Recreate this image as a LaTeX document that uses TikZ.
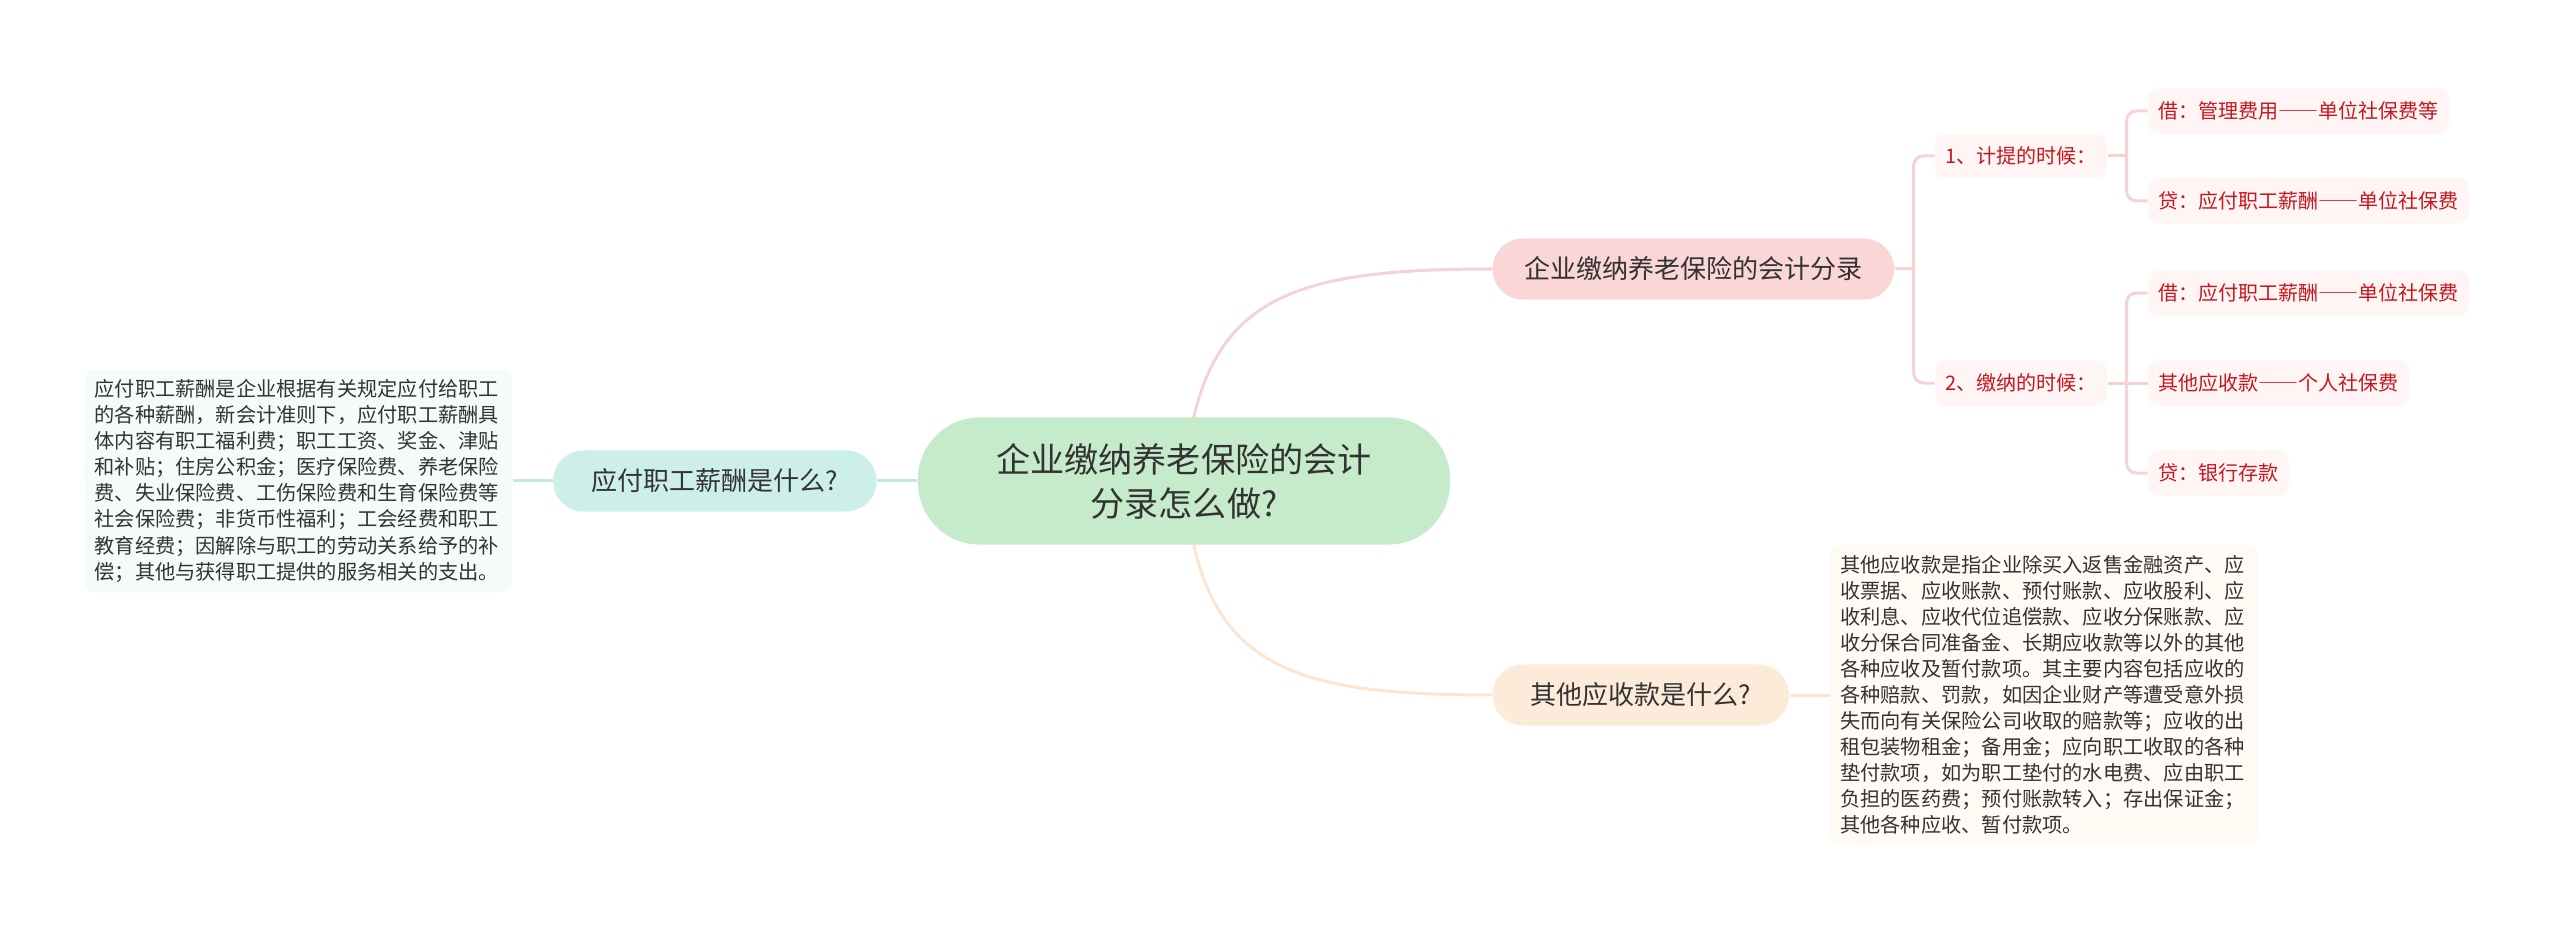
\documentclass[tikz,border=0pt]{standalone}
\usepackage{fontspec}
\setmainfont{Noto Sans CJK SC}
\usetikzlibrary{positioning,backgrounds}
\definecolor{MapInk}{HTML}{333333}
\definecolor{MapRed}{HTML}{C8161D}
\definecolor{MapGreen}{HTML}{C5EBCB}
\definecolor{MapTeal}{HTML}{CDEFEA}
\definecolor{MapTealLine}{HTML}{C3E8E2}
\definecolor{MapTealNote}{HTML}{F4FBFA}
\definecolor{MapPink}{HTML}{FAD7D6}
\definecolor{MapPinkLine}{HTML}{F5D3D3}
\definecolor{MapPinkLeaf}{HTML}{FFF5F5}
\definecolor{MapPeach}{HTML}{FDEBDA}
\definecolor{MapPeachLine}{HTML}{FCE6D2}
\definecolor{MapPeachNote}{HTML}{FFFAF4}
\newcommand{\cjkdash}{{\addfontfeature{CharacterWidth=Full}——}}

\begin{document}
\begin{tikzpicture}[x=0.01cm,y=-0.01cm,
    rootbox/.style={fill=MapGreen,rounded corners=0.62cm,minimum width=5.32cm,minimum height=1.27cm,
      align=center,text=MapInk,font=\fontsize{9.7pt}{12.5pt}\selectfont},
    topic/.style={rounded corners=0.3cm,minimum height=0.61cm,text=MapInk,
      font=\fontsize{7.4pt}{9pt}\selectfont},
    leaf/.style={fill=MapPinkLeaf,rounded corners=0.1cm,minimum height=0.45cm,inner xsep=0.1cm,
      text=MapRed,font=\fontsize{5.7pt}{7pt}\selectfont},
    note/.style={rounded corners=0.1cm,text width=4.07cm,inner xsep=0.1cm,inner ysep=0.1cm,
      align=left,text=MapInk,font=\fontsize{5.75pt}{7.4pt}\selectfont},
    link/.style={line width=0.03cm},
    fork/.style={line width=0.03cm,draw=MapPinkLine,rounded corners=0.1cm}
  ]
  \useasboundingbox (0,0) rectangle (2560,937);

  \node[rootbox] (root) at (1184,481) {企业缴纳养老保险的会计\\分录怎么做?};

  % left branch
  \node[topic,fill=MapTeal,minimum width=3.23cm,left=0.4cm of root] (salary) {应付职工薪酬是什么?};
  \node[note,fill=MapTealNote,left=0.4cm of salary] (salarytext) {%
    应付职工薪酬是企业根据有关规定应付给职工\\
    的各种薪酬，新会计准则下，应付职工薪酬具\\
    体内容有职工福利费；职工工资、奖金、津贴\\
    和补贴；住房公积金；医疗保险费、养老保险\\
    费、失业保险费、工伤保险费和生育保险费等\\
    社会保险费；非货币性福利；工会经费和职工\\
    教育经费；因解除与职工的劳动关系给予的补\\
    偿；其他与获得职工提供的服务相关的支出。};

  % right branches
  \node[topic,fill=MapPink,minimum width=4.01cm,anchor=west] (acct) at (1492,269) {企业缴纳养老保险的会计分录};
  \node[topic,fill=MapPeach,minimum width=2.96cm,anchor=west] (other) at (1492,695) {其他应收款是什么?};
  \node[note,fill=MapPeachNote,right=0.4cm of other] (othertext) {%
    其他应收款是指企业除买入返售金融资产、应\\
    收票据、应收账款、预付账款、应收股利、应\\
    收利息、应收代位追偿款、应收分保账款、应\\
    收分保合同准备金、长期应收款等以外的其他\\
    各种应收及暂付款项。其主要内容包括应收的\\
    各种赔款、罚款，如因企业财产等遭受意外损\\
    失而向有关保险公司收取的赔款等；应收的出\\
    租包装物租金；备用金；应向职工收取的各种\\
    垫付款项，如为职工垫付的水电费、应由职工\\
    负担的医药费；预付账款转入；存出保证金；\\
    其他各种应收、暂付款项。};

  \node[leaf,right=0.4cm of acct,yshift=1.13cm] (accrue) {1、计提的时候：};
  \node[leaf,right=0.4cm of acct,yshift=-1.14cm] (pay) {2、缴纳的时候：};
  \node[leaf,right=0.4cm of accrue,yshift=0.45cm] (debit1) {借：管理费用\cjkdash 单位社保费等};
  \node[leaf,right=0.4cm of accrue,yshift=-0.45cm] (credit1) {贷：应付职工薪酬\cjkdash 单位社保费};
  \node[leaf,right=0.4cm of pay,yshift=0.9cm] (debit2) {借：应付职工薪酬\cjkdash 单位社保费};
  \node[leaf,right=0.4cm of pay] (personal) {其他应收款\cjkdash 个人社保费};
  \node[leaf,right=0.4cm of pay,yshift=-0.9cm] (credit2) {贷：银行存款};

  \coordinate (acctfork) at ([xshift=0.19cm]acct.east);
  \coordinate (accruefork) at ([xshift=0.19cm]accrue.east);
  \coordinate (payfork) at ([xshift=0.19cm]pay.east);

  % connectors
  \begin{scope}[on background layer]
    \draw[link,draw=MapPinkLine] (root.center) .. controls +(0.16cm,1.81cm) and +(-2.12cm,0) .. (acct.west);
    \draw[link,draw=MapPeachLine] (root.center) .. controls +(0.16cm,-1.83cm) and +(-2.12cm,0) .. (other.west);
  \end{scope}
  \draw[link,draw=MapTealLine] (root.west) -- (salary.east);
  \draw[link,draw=MapTealLine] (salary.west) -- (salarytext.east);
  \draw[link,draw=MapPeachLine] (other.east) -- (othertext.west);

  \draw[link,draw=MapPinkLine] (acct.east) -- (acctfork);
  \draw[fork] (accrue.west) -| (acctfork) |- (pay.west);
  \draw[link,draw=MapPinkLine] (accrue.east) -- (accruefork);
  \draw[fork] (debit1.west) -| (accruefork) |- (credit1.west);
  \draw[fork] (debit2.west) -| (payfork) |- (credit2.west);
  \draw[link,draw=MapPinkLine] (pay.east) -- (personal.west);
\end{tikzpicture}
\end{document}
